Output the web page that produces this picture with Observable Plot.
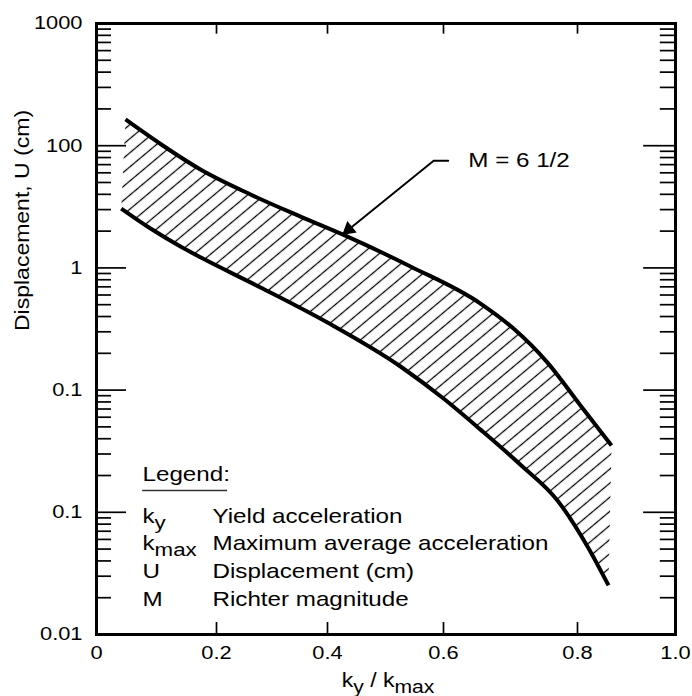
<!DOCTYPE html>
<html><head><meta charset="utf-8">
<script src="https://cdn.jsdelivr.net/npm/d3@7"></script>
<script src="https://cdn.jsdelivr.net/npm/@observablehq/plot@0.6"></script>
<style>
html,body{margin:0;padding:0;background:#fff;}
#chart svg{display:block;}
</style>
</head><body><div id="chart"></div>
<script>
// ---- axis ticks (the original drawing has a non-uniform x axis) ----
const xTicks = [0, 0.2, 0.4, 0.6, 0.8, 1.0];
const xTickLabels = ["0", "0.2", "0.4", "0.6", "0.8", "1.0"];
const xTickPixels = [96, 216, 327, 443, 577, 675];
const yTicks = [0.01, 0.1, 1, 10, 100, 1000];
const yTickLabels = ["0.01", "0.1", "0.1", "1", "100", "1000"];
const yMajor = [0.1, 1, 10, 100];
const xTitle = "k_{y} / k_{max}";
const yTitle = "Displacement, U (cm)";

// ---- band boundaries (M = 6 1/2) ----
const upperX = [0.0483, 0.1067, 0.1733, 0.2613, 0.3514, 0.4259, 0.5431, 0.6552, 0.7045, 0.7552, 0.8061, 0.8694];
const upperY = [163.9, 103.3, 63.9, 39.9, 26.3, 18.8, 10.27, 5.11, 3.19, 1.68, 0.748, 0.352];
const lowerX = [0.0412, 0.090, 0.140, 0.1733, 0.2793, 0.400, 0.5259, 0.600, 0.6552, 0.7149, 0.7701, 0.8204, 0.8633];
const lowerY = [30.6, 21.0, 14.96, 12.2, 6.92, 3.57, 1.56, 0.853, 0.475, 0.245, 0.125, 0.0525, 0.0252];

// ---- annotation ----
const annotText = ["M = 6 1/2"];
const annotX = [0.637];
const annotY = [75.4];
const leaderX = [0.607, 0.583, 0.4366];
const leaderY = [75.4, 75.4, 20.6];

// ---- legend ----
const legendTitle = "Legend:";
const legendSymbols = ["k_{y}", "k_{max}", "U", "M"];
const legendLabels = ["Yield acceleration", "Maximum average acceleration", "Displacement (cm)", "Richter magnitude"];

// derived tables
const upper = upperX.map((x, i) => ({x, y: upperY[i]}));
const lower = lowerX.map((x, i) => ({x, y: lowerY[i]}));
const band = upper.concat(lower.slice().reverse());
const leader = leaderX.map((x, i) => ({x, y: leaderY[i]}));
const arrowTip = [{x: leaderX[2], y: leaderY[2]}];
const isDecade = d => Math.abs(Math.log10(d) - Math.round(Math.log10(d))) < 1e-6;
const minorTicks = d3.scaleLog().domain([0.01, 1000]).ticks().filter(d => !isDecade(d));
const innerX = xTicks.slice(1, -1);

// piecewise warp reproducing the uneven spacing of the printed x axis
const p0 = xTickPixels[0], p1 = xTickPixels[xTickPixels.length - 1];
const xWarp = d3.scaleLinear().domain(xTicks).range(xTickPixels.map(p => (p - p0) / (p1 - p0)));

const legendRowDy = [-118.5, -91.5, -63.5, -35.5];
const FONT = "'Liberation Sans', Arial, Helvetica, sans-serif";

const chart = Plot.plot({
  width: 692, height: 696,
  marginLeft: 96, marginRight: 17, marginTop: 23, marginBottom: 62,
  style: {fontFamily: FONT, color: "#000", background: "#fff"},
  x: {transform: d => xWarp(d), domain: [0, 1], axis: null},
  y: {type: "log", domain: [0.01, 1000], axis: null},
  marks: [
    // hatched band
    Plot.line(band, {x: "x", y: "y", fill: "url(#hatch)", stroke: "none"}),
    // boundaries
    Plot.line(upper, {x: "x", y: "y", curve: "monotone-x", stroke: "#000", strokeWidth: 4, strokeLinecap: "butt"}),
    Plot.line(lower, {x: "x", y: "y", curve: "monotone-x", stroke: "#000", strokeWidth: 4, strokeLinecap: "butt"}),
    // ticks (inward)
    Plot.ruleY(minorTicks, {y: d => d, x1: 0, x2: 0.025, stroke: "#000", strokeWidth: 1.7}),
    Plot.ruleY(yMajor, {y: d => d, x1: 0, x2: 0.05, stroke: "#000", strokeWidth: 1.7}),
    Plot.ruleY(minorTicks, {y: d => d, x1: 0.969, x2: 1, stroke: "#000", strokeWidth: 1.7}),
    Plot.ruleY(yMajor, {y: d => d, x1: 0.935, x2: 1, stroke: "#000", strokeWidth: 1.7}),
    Plot.ruleX(innerX, {x: d => d, y1: 0.01, y2: 0.01253, stroke: "#000", strokeWidth: 1.7}),
    Plot.ruleX(innerX, {x: d => d, y1: 818, y2: 1000, stroke: "#000", strokeWidth: 1.7}),
    Plot.frame({stroke: "#000", strokeWidth: 3}),
    // tick labels
    Plot.text(xTicks, {x: d => d, frameAnchor: "bottom", text: (d, i) => xTickLabels[i], lineAnchor: "top", dy: 11, fontSize: 18.5}),
    Plot.text(yTicks, {y: d => d, frameAnchor: "left", text: (d, i) => yTickLabels[i], textAnchor: "end", dx: -14, fontSize: 18.5}),
    // axis titles
    Plot.text([xTitle], {frameAnchor: "bottom", text: d => d, lineAnchor: "middle", dy: 46, dx: 2, fontSize: 19.5}),
    Plot.text([yTitle], {frameAnchor: "left", text: d => d, rotate: -90, dx: -74, dy: 2, fontSize: 19.5}),
    // annotation
    Plot.line(leader, {x: "x", y: "y", stroke: "#000", strokeWidth: 2}),
    Plot.dot(arrowTip, {x: "x", y: "y", symbol: "triangle", r: 5.5, fill: "#000", stroke: "none", rotate: 230.5}),
    Plot.text(annotText, {x: (d, i) => annotX[i], y: (d, i) => annotY[i], text: d => d, textAnchor: "start", fontSize: 20.5}),
    // legend
    Plot.text([legendTitle], {frameAnchor: "bottom-left", text: d => d, dx: 46, dy: -160.5, lineAnchor: "middle", textAnchor: "start", fontSize: 20.5}),
    Plot.ruleY([0.151], {y: d => d, x1: 0.077, x2: 0.22, stroke: "#333", strokeWidth: 1.5}),
    ...legendSymbols.map((s, i) => Plot.text([s], {frameAnchor: "bottom-left", text: d => d, dx: 46, dy: legendRowDy[i], lineAnchor: "middle", textAnchor: "start", fontSize: 20.5})),
    ...legendLabels.map((s, i) => Plot.text([s], {frameAnchor: "bottom-left", text: d => d, dx: 116, dy: legendRowDy[i], lineAnchor: "middle", textAnchor: "start", fontSize: 20.5}))
  ]
});

// hatch pattern
const NS = "http://www.w3.org/2000/svg";
const defs = document.createElementNS(NS, "defs");
defs.innerHTML = '<pattern id="hatch" patternUnits="userSpaceOnUse" width="20" height="10.8" patternTransform="rotate(-40)"><line x1="-2" y1="5.4" x2="22" y2="5.4" stroke="#000" stroke-width="1.25"/></pattern>';
chart.insertBefore(defs, chart.firstChild);

document.getElementById("chart").appendChild(chart);

// subscripts: "_{...}"
chart.querySelectorAll("text").forEach(t => {
  const s = t.textContent;
  if (!s.includes("_{")) return;
  const fs = parseFloat(getComputedStyle(t).fontSize) || 20;
  const shift = (0.3 * fs).toFixed(1);
  t.textContent = "";
  t.setAttribute("style", (t.getAttribute("style") || "") + ";white-space:pre");
  const re = /_\{([^}]*)\}/g;
  let last = 0, m, shifted = false;
  const add = (txt, dy, sub) => {
    const sp = document.createElementNS(NS, "tspan");
    sp.textContent = txt;
    if (dy) sp.setAttribute("dy", dy);
    if (sub) sp.setAttribute("font-size", (fs * 0.92).toFixed(1));
    t.appendChild(sp);
  };
  while ((m = re.exec(s))) {
    if (m.index > last) { add(s.slice(last, m.index), shifted ? -shift : null, false); shifted = false; }
    add(m[1], shifted ? null : shift, true); shifted = true;
    last = re.lastIndex;
  }
  if (last < s.length) add(s.slice(last), shifted ? -shift : null, false);
});

// horizontal stretch of lettering to match the original typeface proportions
const STRETCH = 1.18;
chart.querySelectorAll("text").forEach(t => {
  const tr = t.getAttribute("transform");
  if (tr) t.setAttribute("transform", tr + ` scale(${STRETCH},1)`);
  else {
    const x = +t.getAttribute("x") || 0, y = +t.getAttribute("y") || 0;
    t.setAttribute("transform", `translate(${x},${y}) scale(${STRETCH},1) translate(${-x},${-y})`);
  }
});
</script>
</body></html>
